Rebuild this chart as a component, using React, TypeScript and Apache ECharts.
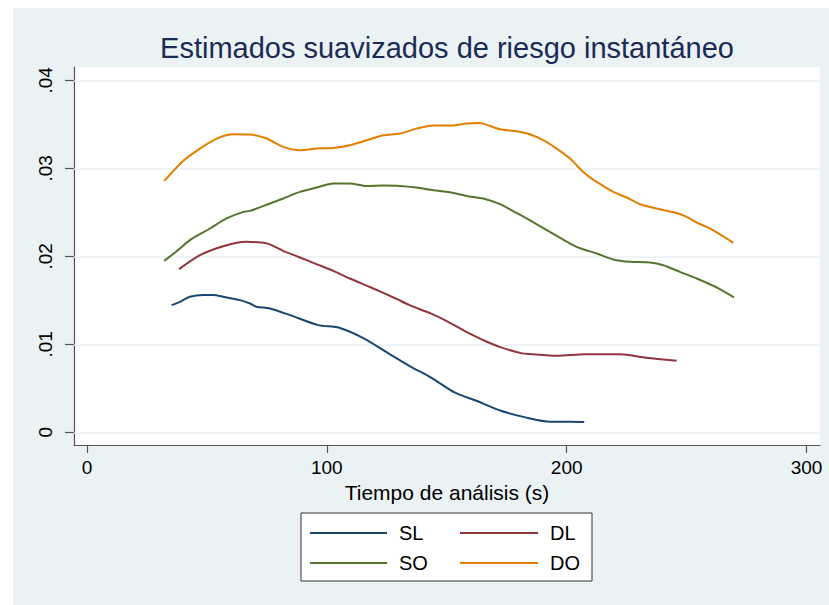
import React, { useEffect, useRef } from "react";
import * as echarts from "echarts";

const titleText = "Estimados suavizados de riesgo instantáneo";
const xAxisTitle = "Tiempo de análisis (s)";
const xTicks = [0, 100, 200, 300];
const yTicks = [0, 0.01, 0.02, 0.03, 0.04];
const seriesNames = ["SL", "DL", "SO", "DO"];
const seriesColors = ["#1a476f", "#90353b", "#55752f", "#e37e00"];

const tSL = [35.3, 38.8, 42.9, 48.5, 52.7, 56.8, 63.8, 68, 70.7, 76.3, 84.7, 96.4, 105.2, 115.4, 125.7, 134.5, 143.3, 153.5, 162.3, 172.6, 182.8, 193.1, 201.9, 207.3];
const hSL = [0.01445, 0.01483, 0.0154, 0.01559, 0.01559, 0.0154, 0.01502, 0.01464, 0.01426, 0.01408, 0.01332, 0.01218, 0.01188, 0.01067, 0.00897, 0.00753, 0.00624, 0.0045, 0.00359, 0.00245, 0.0017, 0.0012, 0.0012, 0.00117];

const tDL = [38.4, 47.1, 56.8, 66.6, 73.5, 76.3, 81.8, 88.8, 94.9, 102.7, 109.6, 118.4, 128.7, 134.5, 143.3, 150.6, 159.4, 166.7, 172.6, 181.4, 184.6, 196, 207.7, 222.4, 233.3, 245.8];
const hDL = [0.01854, 0.02013, 0.02115, 0.02164, 0.02153, 0.02135, 0.02062, 0.01987, 0.01919, 0.01835, 0.01748, 0.01646, 0.01521, 0.01445, 0.01351, 0.01256, 0.01124, 0.01029, 0.00965, 0.00897, 0.00889, 0.0087, 0.00886, 0.00886, 0.00847, 0.00813];

const tSO = [32.2, 37, 43.5, 51.3, 58.2, 65.2, 68, 76.3, 81.8, 88.8, 95.8, 102.7, 109.6, 116.6, 123.5, 130.5, 137.4, 144.4, 151.3, 158.3, 165.2, 172.2, 179.1, 184.6, 193, 204.1, 212.5, 219.4, 226.4, 234.7, 240.3, 247.2, 254.2, 262.5, 269.7];
const hSO = [0.01948, 0.0205, 0.02195, 0.02316, 0.0243, 0.02505, 0.02516, 0.026, 0.02657, 0.02732, 0.02782, 0.02827, 0.02827, 0.028, 0.02804, 0.028, 0.02782, 0.02751, 0.02728, 0.02686, 0.02657, 0.02592, 0.02493, 0.0241, 0.02278, 0.02107, 0.02032, 0.01964, 0.01937, 0.0193, 0.01899, 0.01823, 0.01748, 0.01646, 0.01533];

const tDO = [32.2, 40.1, 47.1, 54.1, 61, 68, 74.9, 81.8, 88.8, 95.8, 102.7, 109.6, 116.6, 123.5, 130.5, 137.4, 144.4, 151.3, 158.3, 163.1, 165.2, 172.2, 179.1, 184.6, 190.2, 195.8, 201.4, 206.9, 212.5, 219.4, 225, 230.6, 237.5, 245.8, 250, 254.2, 259.7, 269.5];
const hDO = [0.02857, 0.03084, 0.03224, 0.03338, 0.03387, 0.03383, 0.03338, 0.03243, 0.03205, 0.03224, 0.03231, 0.03262, 0.03319, 0.03375, 0.03395, 0.03451, 0.03485, 0.03485, 0.03508, 0.03515, 0.03508, 0.03443, 0.03421, 0.03387, 0.03319, 0.03224, 0.03111, 0.02959, 0.02845, 0.02732, 0.02668, 0.02592, 0.02543, 0.02493, 0.02448, 0.02384, 0.02316, 0.02153];

const seriesT = [tSL, tDL, tSO, tDO];
const seriesH = [hSL, hDL, hSO, hDO];

const FONT = "'Liberation Sans', Arial, Helvetica, sans-serif";

function fmtY(v: number): string {
  if (Math.abs(v) < 1e-9) return "0";
  return v.toFixed(2).replace(/^0/, "");
}

export default function App() {
  const ref = useRef<HTMLDivElement>(null);
  useEffect(() => {
    if (!ref.current) return;
    const chart = echarts.init(ref.current, undefined, { renderer: "svg" });
    const lines = seriesNames.map((name, i) => ({
      name,
      type: "line",
      data: seriesT[i].map((t, j) => [t, seriesH[i][j]]),
      symbol: "none",
      smooth: 0.25,
      z: 3,
      lineStyle: { color: seriesColors[i], width: 2 },
      itemStyle: { color: seriesColors[i] },
    }));
    const gridSeries = {
      name: "grid",
      type: "line",
      data: [],
      z: 1,
      silent: true,
      markLine: {
        silent: true,
        z: 1,
        symbol: "none",
        label: { show: false },
        lineStyle: { color: "#eaf2f3", width: 1.6, type: "solid" },
        data: yTicks.map((v) => ({ yAxis: v })),
      },
    };
    const legendCommon = {
      orient: "vertical",
      top: 515,
      padding: 0,
      icon: "rect",
      itemWidth: 77,
      itemHeight: 2,
      itemGap: 10,
      textStyle: { fontFamily: FONT, fontSize: 20, color: "#000", padding: [0, 0, 0, 7] },
    };
    chart.setOption({
      animation: false,
      backgroundColor: "#eaf2f3",
      title: {
        text: titleText,
        left: 429,
        top: 20,
        textAlign: "center",
        textStyle: { fontFamily: FONT, fontSize: 29, fontWeight: "normal", color: "#1c2b55" },
      },
      grid: {
        left: 61,
        top: 59,
        right: 9,
        bottom: 160,
        show: true,
        backgroundColor: "#ffffff",
        borderWidth: 0,
      },
      xAxis: {
        type: "value",
        min: -5.4,
        max: 305.6,
        name: xAxisTitle,
        nameLocation: "middle",
        nameGap: 35,
        nameTextStyle: { fontFamily: FONT, fontSize: 21, color: "#000" },
        axisLine: { show: true, onZero: false, lineStyle: { color: "#555", width: 1.2 } },
        axisTick: { show: true, customValues: xTicks, length: 8, lineStyle: { color: "#555", width: 1.2 } },
        axisLabel: { customValues: xTicks, fontFamily: FONT, fontSize: 19, color: "#000", margin: 13 },
        splitLine: { show: false },
      },
      yAxis: {
        type: "value",
        min: -0.00144,
        max: 0.04151,
        axisLine: { show: true, onZero: false, lineStyle: { color: "#555", width: 1.2 } },
        axisTick: { show: true, customValues: yTicks, length: 9, lineStyle: { color: "#555", width: 1.2 } },
        axisLabel: {
          customValues: yTicks,
          rotate: 90,
          fontFamily: FONT,
          fontSize: 19,
          color: "#000",
          margin: 19,
          formatter: (v: number) => fmtY(v),
        },
        splitLine: { show: false },
      },
      legend: [
        { ...legendCommon, data: ["SL", "SO"], left: 297 },
        { ...legendCommon, data: ["DL", "DO"], left: 447, itemWidth: 78 },
      ],
      graphic: [
        {
          type: "rect",
          z: 0,
          shape: { x: 288, y: 505, width: 291, height: 68 },
          style: { fill: "#ffffff", stroke: "#333333", lineWidth: 1 },
        },
      ],
      series: [gridSeries, ...lines],
    });
    return () => chart.dispose();
  }, []);
  return (
    <div style={{ position: "fixed", left: 0, top: 0, width: 829, height: 605, background: "#ffffff" }}>
      <div ref={ref} style={{ position: "absolute", left: 13, top: 8, width: 816, height: 597 }} />
    </div>
  );
}
